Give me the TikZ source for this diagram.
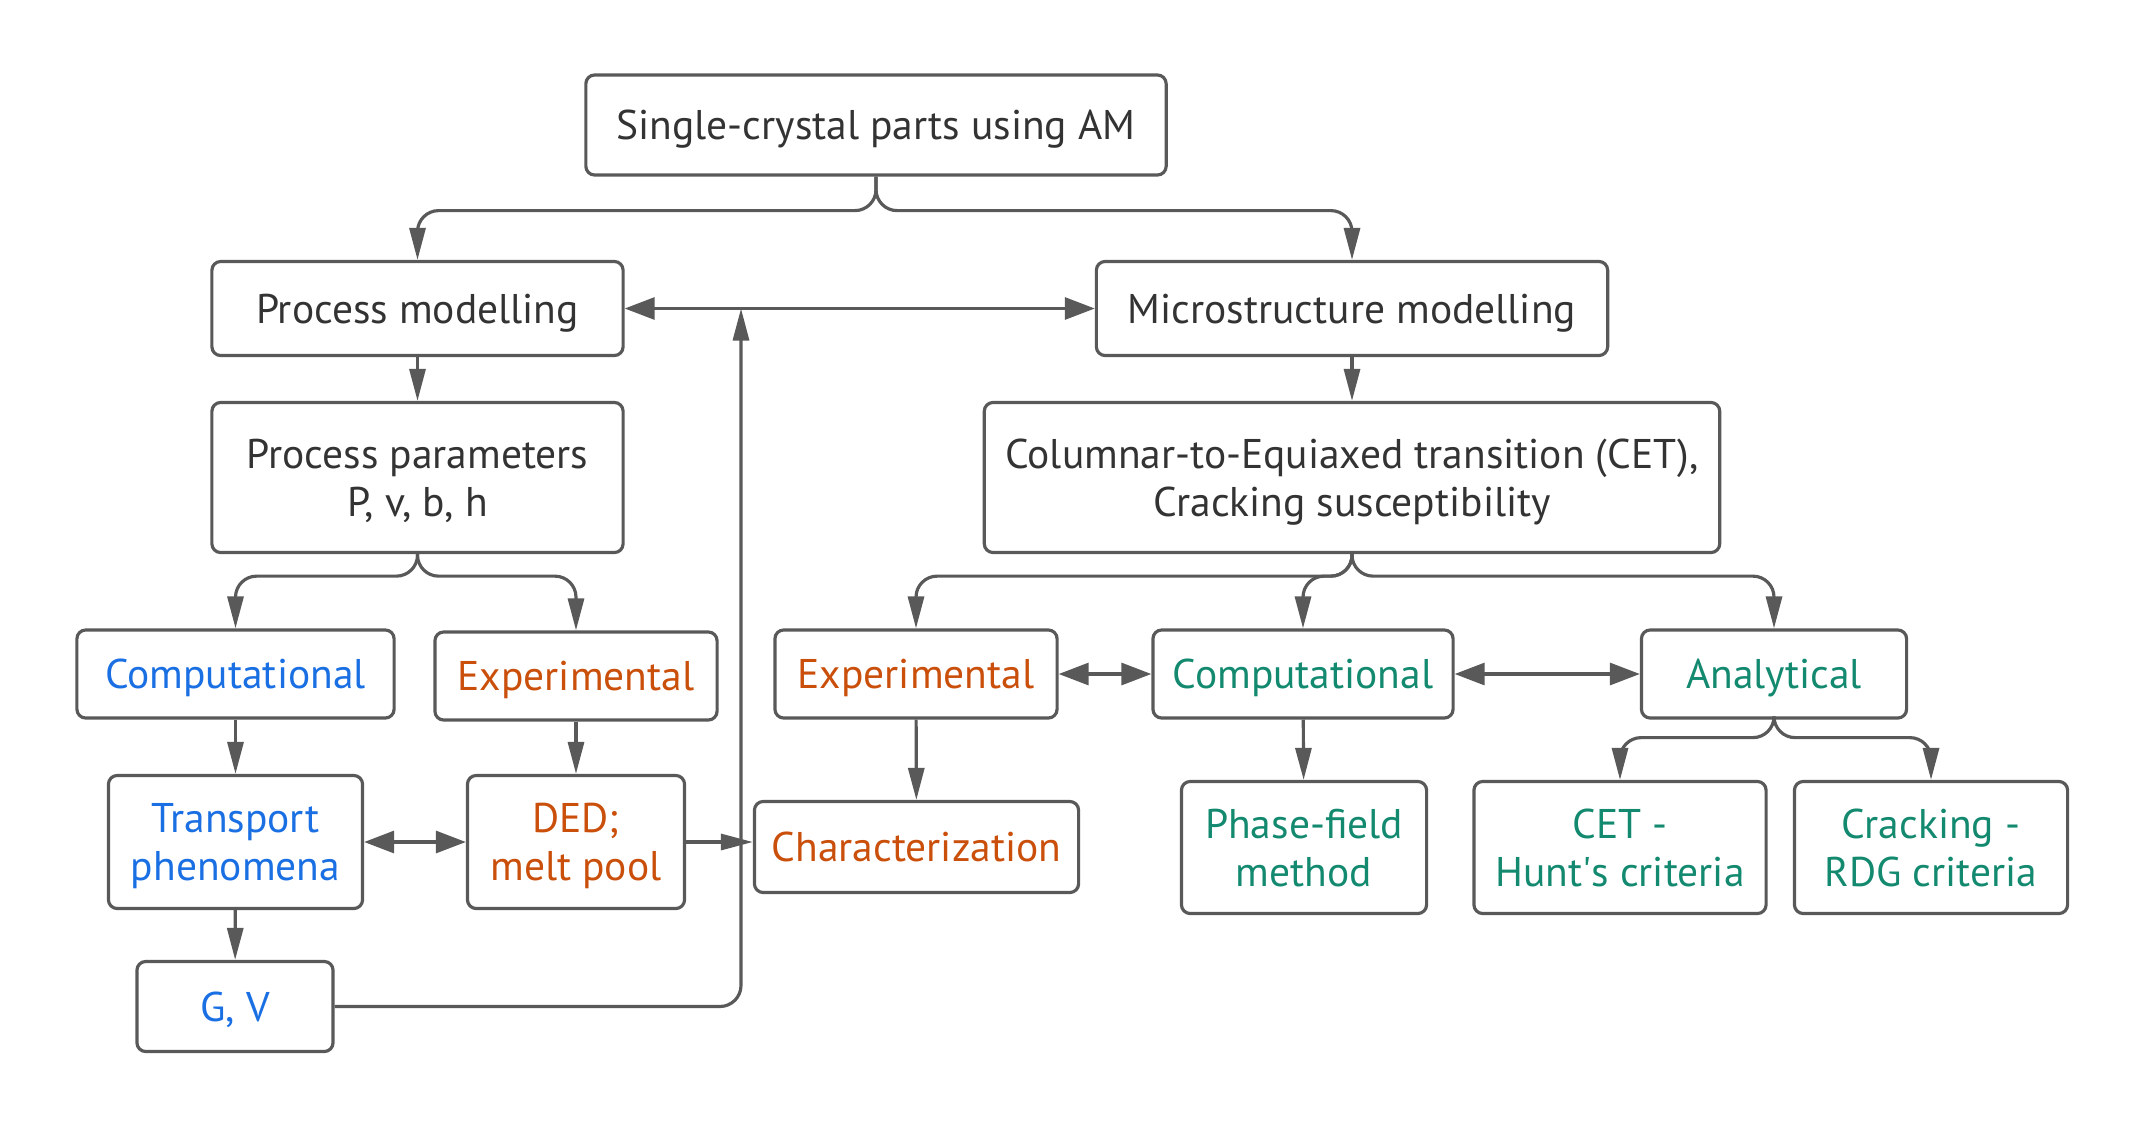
\documentclass[tikz,border=0pt]{standalone}
\usepackage{fontspec}
\setmainfont{PT Sans}
\usetikzlibrary{arrows.meta}
\definecolor{linegray}{HTML}{595959}
\definecolor{textgray}{HTML}{333333}
\definecolor{compblue}{HTML}{1A6FE3}
\definecolor{exporange}{HTML}{C94F0B}
\definecolor{anagreen}{HTML}{13896F}

\begin{document}
\begin{tikzpicture}[x=0.01cm,y=-0.01cm]
  \tikzstyle{box}=[draw=linegray,line width=0.9pt,rounded corners=2.5pt,align=center,text=textgray,font=\fontsize{11.8}{13.6}\selectfont,inner sep=0pt,text depth=0pt]
  \tikzstyle{comp}=[text=compblue]
  \tikzstyle{expt}=[text=exporange]
  \tikzstyle{ana}=[text=anagreen]
  \tikzstyle{arr}=[draw=linegray,line width=0.9pt,-{Triangle[length=0.32cm,width=0.16cm]}]
  \tikzstyle{darr}=[draw=linegray,line width=0.9pt,{Triangle[length=0.3cm,width=0.22cm]}-{Triangle[length=0.3cm,width=0.22cm]}]

  \useasboundingbox (0,0) rectangle (2143,1127);

  % Define the boxes
  \node[box,minimum width=5.8cm,minimum height=1cm] (top) at (876,125) {Single-crystal parts using AM};
  \node[box,minimum width=4.11cm,minimum height=0.94cm] (procmod) at (417.5,308.5) {Process modelling};
  \node[box,minimum width=5.11cm,minimum height=0.94cm] (micmod) at (1352,308.5) {Microstructure modelling};
  \node[box,minimum width=4.11cm,minimum height=1.5cm] (procpar) at (417.5,477.5) {Process parameters\\P, v, b, h};
  \node[box,minimum width=7.35cm,minimum height=1.5cm] (cet) at (1352,477.5) {Columnar-to-Equiaxed transition (CET),\\Cracking susceptibility};

  % Process side
  \node[box,comp,minimum width=3.17cm,minimum height=0.88cm] (compL) at (235.5,674) {Computational};
  \node[box,expt,minimum width=2.82cm,minimum height=0.88cm] (expL) at (576,676) {Experimental};
  \node[box,comp,minimum width=2.54cm,minimum height=1.33cm] (transp) at (235.5,842) {Transport\\phenomena};
  \node[box,expt,minimum width=2.17cm,minimum height=1.33cm] (ded) at (576,842) {DED;\\melt pool};
  \node[box,comp,minimum width=1.96cm,minimum height=0.9cm] (gv) at (235,1006.5) {G, V};

  % Microstructure side
  \node[box,expt,minimum width=2.82cm,minimum height=0.88cm] (expR) at (916,674) {Experimental};
  \node[box,ana,minimum width=3cm,minimum height=0.88cm] (compR) at (1303,674) {Computational};
  \node[box,ana,minimum width=2.65cm,minimum height=0.88cm] (anal) at (1774,674) {Analytical};
  \node[box,expt,minimum width=3.24cm,minimum height=0.91cm] (char) at (916.5,847) {Characterization};
  \node[box,ana,minimum width=2.45cm,minimum height=1.32cm] (phase) at (1304,847.5) {Phase-field\\method};
  \node[box,ana,minimum width=2.92cm,minimum height=1.32cm] (hunt) at (1620,847.5) {CET -\\Hunt\textquotesingle s criteria};
  \node[box,ana,minimum width=2.73cm,minimum height=1.32cm] (rdg) at (1931,847.5) {Cracking -\\RDG criteria};

  \coordinate (join) at (741,308.5);

  % Branching arrows
  \foreach \a/\d/\b in {top/34/procmod, top/34/micmod, procpar/22/compL, procpar/22/expL, cet/22/expR, cet/22/compR, cet/22/anal, anal/18/hunt, anal/18/rdg} {
    \draw[arr,rounded corners=6pt] (\a.south) -- ++(0,\d) -| (\b.north);
  }

  % Straight arrows
  \foreach \a/\b in {procmod/procpar, micmod/cet, compL/transp, expL/ded, transp/gv, expR/char, compR/phase} {
    \draw[arr] (\a) -- (\b);
  }

  % Two-way arrows
  \foreach \a/\b in {procmod/micmod, transp/ded, expR/compR, compR/anal} {
    \draw[darr] (\a) -- (\b);
  }

  \draw[arr] (ded.east) -- (ded.east -| char.west);
  \draw[arr,rounded corners=6pt] (gv.east) -| (join);
\end{tikzpicture}
\end{document}
